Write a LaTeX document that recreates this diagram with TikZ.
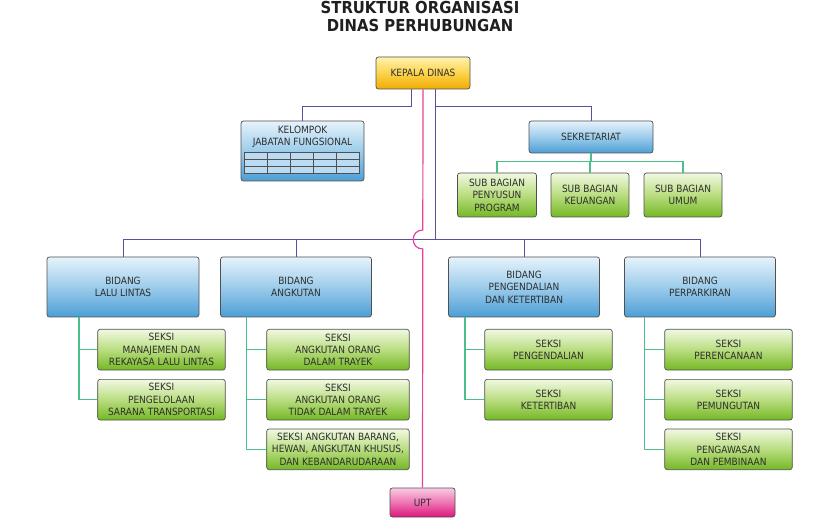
\documentclass[tikz,border=0pt]{standalone}
\usepackage{fontspec}
\setmainfont{DejaVu Sans Condensed}
\definecolor{txt}{HTML}{2E2E2E}
\definecolor{bord}{HTML}{505050}
\definecolor{bluetop}{HTML}{E6F3FB}
\definecolor{bluemid}{HTML}{9CCCEB}
\definecolor{bluebot}{HTML}{4C9ED6}
\definecolor{greentop}{HTML}{F1F9E2}
\definecolor{greenmid}{HTML}{B9DD80}
\definecolor{greenbot}{HTML}{74B824}
\definecolor{orgtop}{HTML}{FFF3B0}
\definecolor{orgmid}{HTML}{FCD34C}
\definecolor{orgbot}{HTML}{F0AC00}
\definecolor{pinktop}{HTML}{F9CBE3}
\definecolor{pinkmid}{HTML}{EE74B2}
\definecolor{pinkbot}{HTML}{DD157C}
\definecolor{purp}{HTML}{5E4E9E}
\definecolor{mint}{HTML}{4CBF88}
\definecolor{hotpink}{HTML}{E8409C}
\tikzset{
  every node/.style={font=\fontsize{10}{12.4}\selectfont, text=txt},
  bx/.style={draw=bord, line width=0.7pt, rounded corners=2.5pt, inner sep=0pt, align=center},
  bluebox/.style={bx, top color=bluetop, bottom color=bluebot, middle color=bluemid},
  greenbox/.style={bx, top color=greentop, bottom color=greenbot, middle color=greenmid},
  orgbox/.style={bx, top color=orgtop, bottom color=orgbot, middle color=orgmid},
  pinkbox/.style={bx, top color=pinktop, bottom color=pinkbot, middle color=pinkmid},
  pl/.style={draw=purp, line width=0.9pt},
  gl/.style={draw=mint, line width=1.1pt},
  pk/.style={draw=hotpink, line width=1.2pt},
  seksi/.style={greenbox, minimum height=40.7pt},
}
\begin{document}
\begin{tikzpicture}[x=1pt,y=-1pt]
\useasboundingbox (0,0) rectangle (840,518);
\fill[white] (0,0) rectangle (840,518);

% title
\node[font=\fontsize{16.5}{18}\selectfont\bfseries, text=black!88, align=center] (title) at (420,16) {STRUKTUR ORGANISASI\\DINAS PERHUBUNGAN};

% top level
\node[orgbox, minimum width=94pt, minimum height=32pt] (kepala) at (423,73) {KEPALA DINAS};
\node[bluebox, minimum width=123pt, minimum height=60pt] (kjf) at (302.5,151) {};
\node[align=center] (kjft) at (302.5,136.5) {KELOMPOK\\JABATAN FUNGSIONAL};
\node[bluebox, minimum width=124pt, minimum height=32pt] (sek) at (591,137) {SEKRETARIAT};

% table inside kjf
\fill[bluemid!70!white] (244.3,152.7) rectangle (359.3,173.3);
\draw[bord, line width=0.7pt] (244.3,152.7) rectangle (359.3,173.3);
\draw[bord, line width=0.7pt] (244.3,159.3) -- (359.3,159.3) (244.3,166.3) -- (359.3,166.3)
  (267.3,152.7) -- (267.3,173.3) (290.7,152.7) -- (290.7,173.3)
  (313.7,152.7) -- (313.7,173.3) (336.7,152.7) -- (336.7,173.3);

% sub bagian
\node[greenbox, minimum width=79pt, minimum height=44pt] (sb1) at (497,195) {SUB BAGIAN\\PENYUSUN\\PROGRAM};
\node[greenbox, minimum width=78pt, minimum height=44pt] (sb2) at (590,195) {SUB BAGIAN\\KEUANGAN};
\node[greenbox, minimum width=78pt, minimum height=44pt] (sb3) at (683,195) {SUB BAGIAN\\UMUM};

% bidang
\node[bluebox, minimum width=152pt, minimum height=60pt] (b1) at (123,287) {BIDANG\\LALU LINTAS};
\node[bluebox, minimum width=151pt, minimum height=60pt] (b2) at (296,287) {BIDANG\\ANGKUTAN};
\node[bluebox, minimum width=151pt, minimum height=60pt] (b3) at (524,287) {BIDANG\\PENGENDALIAN\\DAN KETERTIBAN};
\node[bluebox, minimum width=151pt, minimum height=60pt] (b4) at (700,287) {BIDANG\\PERPARKIRAN};

% seksi
\node[seksi, minimum width=127.6pt] (s11) at (161.5,349.7) {SEKSI\\MANAJEMEN DAN\\REKAYASA LALU LINTAS};
\node[seksi, minimum width=127.6pt] (s12) at (161.5,399.7) {SEKSI\\PENGELOLAAN\\SARANA TRANSPORTASI};
\node[seksi, minimum width=142.6pt] (s21) at (338,349.7) {SEKSI\\ANGKUTAN ORANG\\DALAM TRAYEK};
\node[seksi, minimum width=142.6pt] (s22) at (338,399.7) {SEKSI\\ANGKUTAN ORANG\\TIDAK DALAM TRAYEK};
\node[seksi, minimum width=142.6pt] (s23) at (338,449.3) {SEKSI ANGKUTAN BARANG,\\HEWAN, ANGKUTAN KHUSUS,\\DAN KEBANDARUDARAAN};
\node[seksi, minimum width=127.6pt] (s31) at (548.5,349.7) {SEKSI\\PENGENDALIAN};
\node[seksi, minimum width=127.6pt] (s32) at (548.5,399.7) {SEKSI\\KETERTIBAN};
\node[seksi, minimum width=127.6pt] (s41) at (728.5,349.7) {SEKSI\\PERENCANAAN};
\node[seksi, minimum width=127.6pt] (s42) at (728.5,399.7) {SEKSI\\PEMUNGUTAN};
\node[seksi, minimum width=127.6pt] (s43) at (728.5,449.3) {SEKSI\\PENGAWASAN\\DAN PEMBINAAN};

% UPT
\node[pinkbox, minimum width=65pt, minimum height=29pt] (upt) at (422.5,502.5) {UPT};

% purple connectors
\draw[pl] ([xshift=-12pt]kepala.south) -- ++(0,17) -| (kjf.north);
\draw[pl] ([xshift=12pt]kepala.south) -- ++(0,17) -| (sek.north);
\coordinate (jb) at (435,239.3);
\draw[pl] ([xshift=12pt]kepala.south) -- (jb);
\draw[pl] (b1.north) -- ++(0,-17.4) -| (b4.north);
\draw[pl] (b2.north) -- ++(0,-17.4);
\draw[pl] (b3.north) -- ++(0,-17.4);

% green connectors sekretariat
\coordinate (js) at (591,161.7);
\draw[gl] (sek.south) -- (js);
\draw[gl] (sb1.north) |- (js) -| (sb3.north);
\draw[gl] (sb2.north) -- (sb2.north |- js);

% green connectors bidang
\draw[gl] ([xshift=-44pt]b1.south) |- (s12.west);
\draw[gl] ([xshift=-44pt]b1.south |- s11.west) -- (s11.west);
\draw[gl] ([xshift=-49.3pt]b2.south) |- (s23.west);
\draw[gl] ([xshift=-49.3pt]b2.south |- s21.west) -- (s21.west);
\draw[gl] ([xshift=-49.3pt]b2.south |- s22.west) -- (s22.west);
\draw[gl] ([xshift=-59pt]b3.south) |- (s32.west);
\draw[gl] ([xshift=-59pt]b3.south |- s31.west) -- (s31.west);
\draw[gl] ([xshift=-55.7pt]b4.south) |- (s43.west);
\draw[gl] ([xshift=-55.7pt]b4.south |- s41.west) -- (s41.west);
\draw[gl] ([xshift=-55.7pt]b4.south |- s42.west) -- (s42.west);

% pink connector with hop
\draw[pk] (kepala.south) -- (422.8,230) .. controls (410,230) and (410,249) .. (422.8,249) -- (upt.north);
\end{tikzpicture}
\end{document}
